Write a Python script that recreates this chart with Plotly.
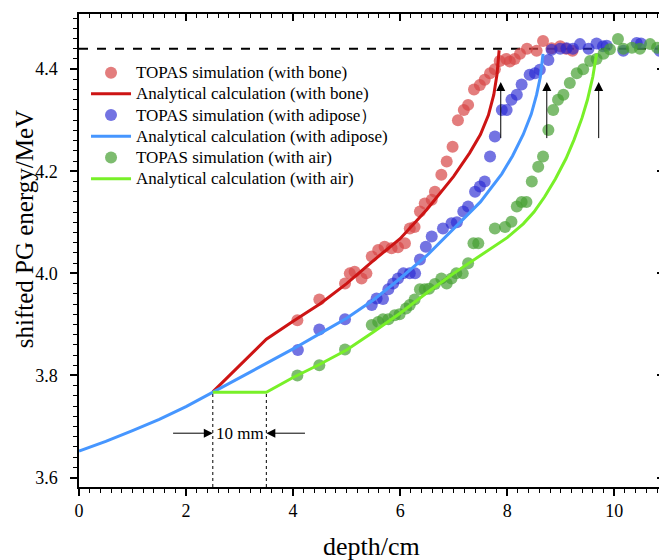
import plotly.graph_objects as go

# ---------------- data ----------------
# Analytical curves
bone_line_x = [2.5, 3.5, 4.0, 4.5, 5.0, 5.5, 6.0, 6.5, 7.0, 7.3, 7.5, 7.65, 7.75, 7.81, 7.85]
bone_line_y = [3.768, 3.871, 3.906, 3.940, 3.980, 4.025, 4.068, 4.125, 4.190, 4.236, 4.272, 4.310, 4.350, 4.390, 4.437]

adip_line_x = [0.0, 0.5, 1.0, 1.5, 2.0, 2.5, 3.0, 3.5, 4.0, 4.5, 5.0, 5.5, 6.0, 6.5, 7.0, 7.5, 7.9, 8.1, 8.3, 8.45, 8.55, 8.62, 8.67]
adip_line_y = [3.652, 3.671, 3.692, 3.714, 3.739, 3.767, 3.795, 3.824, 3.852, 3.882, 3.912, 3.948, 3.990, 4.035, 4.087, 4.140, 4.195, 4.230, 4.272, 4.312, 4.350, 4.385, 4.430]

air_line_x = [2.5, 3.5, 4.0, 4.5, 5.0, 5.5, 6.0, 6.5, 7.0, 7.5, 8.0, 8.3, 8.5, 8.7, 8.9, 9.1, 9.25, 9.4, 9.5, 9.6, 9.67]
air_line_y = [3.767, 3.767, 3.796, 3.822, 3.850, 3.885, 3.922, 3.962, 4.000, 4.035, 4.070, 4.097, 4.120, 4.150, 4.185, 4.225, 4.262, 4.305, 4.340, 4.385, 4.430]

# TOPAS simulation points
bone_sim_x = [4.08, 4.49, 4.97, 5.06, 5.15, 5.28, 5.37, 5.47, 5.59, 5.71, 5.84, 5.96, 6.09, 6.18,
              6.27, 6.37, 6.46, 6.59, 6.65, 6.77, 6.87, 6.98, 7.08, 7.19, 7.27, 7.38, 7.49, 7.58,
              7.68, 7.77, 7.86, 7.98, 8.05, 8.14, 8.24, 8.37, 8.55, 8.67, 8.83, 8.99, 9.10, 9.22]
bone_sim_y = [3.908, 3.949, 3.980, 4.000, 4.003, 3.990, 4.000, 4.033, 4.046, 4.052, 4.049, 4.051, 4.059, 4.088,
              4.091, 4.121, 4.137, 4.144, 4.160, 4.193, 4.219, 4.248, 4.300, 4.320, 4.330, 4.360, 4.369, 4.379,
              4.392, 4.400, 4.416, 4.420, 4.415, 4.420, 4.430, 4.440, 4.436, 4.455, 4.441, 4.445, 4.440, 4.436]

adip_sim_x = [4.09, 4.49, 4.97, 5.47, 5.56, 5.68, 5.78, 5.87, 5.96, 6.06, 6.18, 6.28, 6.37, 6.48,
              6.59, 6.80, 6.96, 7.06, 7.18, 7.27, 7.40, 7.49, 7.58, 7.68, 7.77, 7.90, 7.99, 8.08,
              8.18, 8.27, 8.42, 8.52, 8.61, 8.77, 8.83, 8.99, 9.11, 9.23, 9.36, 9.52, 9.67, 9.79,
              9.86, 10.17, 10.42, 10.50, 10.85]
adip_sim_y = [3.850, 3.890, 3.910, 3.938, 3.951, 3.950, 3.969, 3.980, 3.990, 4.000, 4.000, 4.000, 4.027, 4.052,
              4.072, 4.088, 4.098, 4.100, 4.121, 4.131, 4.160, 4.170, 4.180, 4.229, 4.268, 4.320, 4.320, 4.340,
              4.350, 4.370, 4.389, 4.392, 4.399, 4.418, 4.438, 4.440, 4.441, 4.440, 4.449, 4.440, 4.450, 4.445,
              4.446, 4.436, 4.451, 4.450, 4.436]

air_sim_x = [4.08, 4.49, 4.97, 5.47, 5.59, 5.68, 5.78, 5.90, 5.99, 6.11, 6.18, 6.27, 6.37, 6.46,
             6.54, 6.65, 6.77, 6.87, 6.96, 7.05, 7.17, 7.27, 7.37, 7.46, 7.77, 7.96, 8.08, 8.18,
             8.27, 8.36, 8.46, 8.58, 8.67, 8.77, 8.86, 8.95, 9.05, 9.17, 9.30, 9.42, 9.55, 9.67,
             9.80, 9.92, 10.07, 10.17, 10.33, 10.48, 10.67, 10.80, 10.92]
air_sim_y = [3.800, 3.820, 3.851, 3.899, 3.905, 3.910, 3.910, 3.918, 3.920, 3.931, 3.938, 3.949, 3.969, 3.969,
             3.970, 3.979, 3.990, 3.980, 3.990, 4.000, 4.000, 4.020, 4.059, 4.059, 4.088, 4.091, 4.101, 4.131,
             4.140, 4.140, 4.180, 4.209, 4.229, 4.281, 4.320, 4.340, 4.350, 4.373, 4.392, 4.400, 4.416, 4.420,
             4.430, 4.439, 4.459, 4.440, 4.442, 4.440, 4.449, 4.442, 4.440]

legend_names = ["TOPAS simulation (with bone)", "Analytical calculation (with bone)",
                "TOPAS simulation (with adipose）", "Analytical calculation (with adipose)",
                "TOPAS simulation (with air)", "Analytical calculation (with air)"]

x_title = "depth/cm"
y_title = "shifted PG energy/MeV"

reference_energy = 4.44
layer_edges = [2.5, 3.5]
layer_edge_top = 3.767
arrow_x = [7.88, 8.74, 9.71]
arrow_y = [4.262, 4.375]
span_label = "10 mm"
span_y = 3.687
span_arrow_tail = [1.73, 4.25]

x_ticks = [0, 2, 4, 6, 8, 10]
y_ticks = [3.6, 3.8, 4.0, 4.2, 4.4]
x_range = [0, 10.93]
y_range = [3.5816, 4.508]

# ---------------- figure ----------------
FONT = "Liberation Serif, Times New Roman, serif"
fig = go.Figure()

def lab(name):
    return '<span style="font-size:17px">' + name + '</span>'

def sim(x, y, name, color):
    fig.add_trace(go.Scatter(x=x, y=y, mode="markers", name=lab(name),
                             marker=dict(size=12, color=color, line=dict(width=0))))

def line(x, y, name, color):
    fig.add_trace(go.Scatter(x=x, y=y, mode="lines", name=lab(name),
                             line=dict(color=color, width=3)))

sim(bone_sim_x, bone_sim_y, legend_names[0], "rgba(215,70,70,0.7)")
line(bone_line_x, bone_line_y, legend_names[1], "rgb(205,20,20)")
sim(adip_sim_x, adip_sim_y, legend_names[2], "rgba(40,40,210,0.65)")
line(adip_line_x, adip_line_y, legend_names[3], "rgb(70,150,255)")
sim(air_sim_x, air_sim_y, legend_names[4], "rgba(70,160,50,0.7)")
line(air_line_x, air_line_y, legend_names[5], "rgb(120,240,40)")

# dummy trace on mirror axes (to draw inner ticks on top/right)
fig.add_trace(go.Scatter(x=[None], y=[None], xaxis="x2", yaxis="y2", showlegend=False, hoverinfo="skip"))

# reference dashed line
fig.add_shape(type="line", xref="paper", x0=0, x1=1, yref="y", y0=reference_energy, y1=reference_energy,
              line=dict(color="black", width=2, dash="dash"), layer="below")
# vertical dashed layer edges
for xe in layer_edges:
    fig.add_shape(type="line", xref="x", x0=xe, x1=xe, yref="y", y0=y_range[0], y1=layer_edge_top,
                  line=dict(color="black", width=1, dash="dot"))

# vertical arrows
for xa in arrow_x:
    fig.add_annotation(x=xa, y=arrow_y[1], ax=xa, ay=arrow_y[0], xref="x", yref="y", axref="x", ayref="y",
                       showarrow=True, arrowhead=2, arrowsize=1.8, arrowwidth=1, arrowcolor="black", text="")
# horizontal arrows for 10 mm
for xe, xt in zip(layer_edges, span_arrow_tail):
    fig.add_annotation(x=xe, y=span_y, ax=xt, ay=span_y, xref="x", yref="y",
                       axref="x", ayref="y", showarrow=True, arrowhead=2, arrowsize=1.8, arrowwidth=1,
                       arrowcolor="black", text="")
fig.add_annotation(x=(layer_edges[0] + layer_edges[1]) / 2, y=span_y, xref="x", yref="y", text=span_label,
                   showarrow=False, font=dict(family=FONT, size=17, color="black"), bgcolor="white",
                   borderpad=0)

# axis titles
fig.add_annotation(x=0.5, y=-0.125, xref="paper", yref="paper", text=x_title, showarrow=False,
                   xanchor="center", yanchor="middle", font=dict(family=FONT, size=26, color="black"))
fig.add_annotation(x=-0.094, y=0.545, xref="paper", yref="paper", text=y_title, showarrow=False, textangle=-90,
                   xanchor="center", yanchor="middle", font=dict(family=FONT, size=25, color="black"))

axis_common = dict(showgrid=False, zeroline=False, showline=True, linecolor="black", linewidth=1.5,
                   automargin=False)

# the page body has an 8px margin, so the figure is offset by 8px
fig.update_layout(
    width=659, height=552,
    margin=dict(l=71, r=3, t=6, b=73),
    paper_bgcolor="white", plot_bgcolor="white",
    font=dict(family=FONT, color="black"),
    showlegend=True,
    legend=dict(x=0.012, y=0.909, xanchor="left", yanchor="top", bgcolor="rgba(0,0,0,0)",
                font=dict(family=FONT, size=14, color="black"), tracegroupgap=0, itemwidth=40),
    xaxis=dict(range=x_range, tickvals=x_ticks, ticktext=[str(v) for v in x_ticks],
               ticks="outside", ticklen=7, tickwidth=1.5, tickcolor="black",
               minor=dict(dtick=0.2, ticks="outside", ticklen=4, tickwidth=1.2, tickcolor="black"),
               tickfont=dict(family=FONT, size=18, color="black"),
               **axis_common),
    yaxis=dict(range=y_range, tickvals=y_ticks, ticktext=["%.1f" % v for v in y_ticks],
               ticks="outside", ticklen=7, tickwidth=1.5, tickcolor="black", ticklabelstandoff=9,
               minor=dict(dtick=0.02, ticks="outside", ticklen=4, tickwidth=1.2, tickcolor="black"),
               tickfont=dict(family=FONT, size=18, color="black"),
               **axis_common),
    xaxis2=dict(range=x_range, overlaying="x", side="top", anchor="y", tickvals=x_ticks,
                showticklabels=False, ticks="inside", ticklen=7, tickwidth=1.5, tickcolor="black",
                minor=dict(dtick=0.2, ticks="inside", ticklen=4, tickwidth=1.2, tickcolor="black"),
                **axis_common),
    yaxis2=dict(range=y_range, overlaying="y", side="right", anchor="x", tickvals=y_ticks,
                showticklabels=False, ticks="inside", ticklen=7, tickwidth=1.5, tickcolor="black",
                minor=dict(dtick=0.02, ticks="inside", ticklen=4, tickwidth=1.2, tickcolor="black"),
                **axis_common),
)

fig.write_html("out.html")
